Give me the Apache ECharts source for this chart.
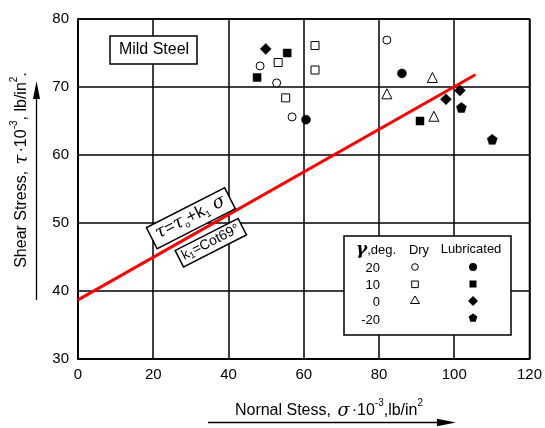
<!DOCTYPE html>
<html>
<head>
<meta charset="utf-8">
<script src="https://cdn.jsdelivr.net/npm/echarts@6/dist/echarts.min.js"></script>
<style>
  html, body { margin: 0; padding: 0; background: #fff; }
  #chart { width: 545px; height: 428px; }
</style>
</head>
<body>
<div id="chart"></div>
<script>
// Axis ranges
const xRange = [0, 120];
const yRange = [30, 80];
const xStep = 20;
const yStep = 10;

// Dry tests (open symbols): [normal stress, shear stress] x10^3 lb/in^2
const dry20 = [[48.4, 73.1], [52.8, 70.6], [56.9, 65.6], [82.1, 76.9]];
const dry10 = [[53.2, 73.6], [55.2, 68.4], [63.0, 76.1], [63.0, 72.5]];
const dry0  = [[82.1, 69.0], [94.2, 71.4], [94.6, 65.7]];

// Lubricated tests (filled symbols)
const lub20  = [[60.6, 65.2], [86.1, 72.0]];
const lub10  = [[47.6, 71.4], [55.6, 75.0], [90.9, 65.0]];
const lub0   = [[49.9, 75.6], [97.8, 68.2], [101.5, 69.5]];
const lubM20 = [[101.9, 67.0], [110.1, 62.3]];

// Fitted line tau = tau0 + k1 * sigma
const fitLine = [[0, 38.7], [105.6, 71.8]];

// Legend rows
const legendAngles = ['20', '10', '0', '-20'];

const FONT = 'Liberation Sans, Arial, sans-serif';
const PENTAGON = 'path://M0,-10 L9.51,-3.09 L5.88,8.09 L-5.88,8.09 L-9.51,-3.09 Z';

function scatter(name, data, symbol, size, filled) {
  return {
    name, type: 'scatter', data, symbol, symbolSize: size, z: 5,
    itemStyle: filled
      ? { color: '#000', borderColor: '#000', borderWidth: 0.5, opacity: 1 }
      : { color: '#fff', borderColor: '#000', borderWidth: 1, opacity: 1 }
  };
}

const chart = echarts.init(document.getElementById('chart'));

const option = {
  backgroundColor: '#fff',
  animation: false,
  grid: { left: 78, top: 19, width: 454, height: 340, show: true, borderColor: '#000', borderWidth: 1.5, backgroundColor: 'transparent' },
  xAxis: {
    type: 'value', min: xRange[0], max: xRange[1], interval: xStep,
    axisLine: { lineStyle: { color: '#000', width: 1.5 } },
    axisTick: { show: false },
    axisLabel: { color: '#000', fontSize: 15, fontFamily: FONT, margin: 8 },
    splitLine: { show: true, lineStyle: { color: '#000', width: 1.5 } }
  },
  yAxis: {
    type: 'value', min: yRange[0], max: yRange[1], interval: yStep,
    axisLine: { lineStyle: { color: '#000', width: 1.5 } },
    axisTick: { show: false },
    axisLabel: { color: '#000', fontSize: 15, fontFamily: FONT, margin: 9, padding: [0, 0, 4, 0] },
    splitLine: { show: true, lineStyle: { color: '#000', width: 1.5 } }
  },
  series: [
    {
      name: 'fit', type: 'line', data: fitLine, symbol: 'none', z: 3,
      lineStyle: { color: '#ff0000', width: 3 }
    },
    scatter('dry 20', dry20, 'circle', 8, false),
    scatter('dry 10', dry10, 'rect', 8, false),
    scatter('dry 0', dry0, 'triangle', 10, false),
    scatter('lub 20', lub20, 'circle', 9, true),
    scatter('lub 10', lub10, 'rect', 8, true),
    scatter('lub 0', lub0, 'diamond', 11, true),
    scatter('lub -20', lubM20, PENTAGON, 10, true)
  ]
};
chart.setOption(option);

// Annotations placed after the axes exist
const eqPos = chart.convertToPixel({ gridIndex: 0 }, [30.0, 50.7]);
const kPos = chart.convertToPixel({ gridIndex: 0 }, [35.3, 47.1]);
const tilt = 27 * Math.PI / 180;

// Legend box geometry
const lg = { x: 344, y: 236, w: 167, h: 99 };
const rowY = [268, 285, 302, 320];
const dryX = 415, lubX = 473;

function pentagonPoints(cx, cy, r) {
  const pts = [];
  for (let i = 0; i < 5; i++) {
    const a = -Math.PI / 2 + i * 2 * Math.PI / 5;
    pts.push([cx + r * Math.cos(a), cy + r * Math.sin(a)]);
  }
  return pts;
}

const legendEls = [
  { type: 'rect', shape: { x: lg.x, y: lg.y, width: lg.w, height: lg.h },
    style: { fill: '#fff', stroke: '#000', lineWidth: 1.5 }, z: 10 },
  { type: 'text', x: 356, y: 250, z: 11,
    style: { text: '{g|γ}{t|,deg.}', verticalAlign: 'middle',
      rich: { g: { fontSize: 17, fontFamily: 'DejaVu Serif, serif', fontStyle: 'italic', fontWeight: 'bold', fill: '#000' },
              t: { fontSize: 13, fontFamily: FONT, fill: '#000' } } } },
  { type: 'text', x: 419, y: 250, z: 11,
    style: { text: 'Dry', fontSize: 13, fontFamily: FONT, fill: '#000', align: 'center', verticalAlign: 'middle' } },
  { type: 'text', x: 471, y: 249, z: 11,
    style: { text: 'Lubricated', fontSize: 13, fontFamily: FONT, fill: '#000', align: 'center', verticalAlign: 'middle' } },
  // dry symbols
  { type: 'circle', shape: { cx: dryX, cy: rowY[0] - 1, r: 3.3 }, style: { fill: '#fff', stroke: '#000', lineWidth: 1 }, z: 11 },
  { type: 'rect', shape: { x: dryX - 3.3, y: rowY[1] - 4, width: 6.6, height: 6.6 }, style: { fill: '#fff', stroke: '#000', lineWidth: 1 }, z: 11 },
  { type: 'polygon', shape: { points: [[dryX, rowY[2] - 6], [dryX + 4.5, rowY[2] + 1.5], [dryX - 4.5, rowY[2] + 1.5]] }, style: { fill: '#fff', stroke: '#000', lineWidth: 1 }, z: 11 },
  // lubricated symbols
  { type: 'circle', shape: { cx: lubX, cy: rowY[0] - 1, r: 4 }, style: { fill: '#000' }, z: 11 },
  { type: 'rect', shape: { x: lubX - 3.5, y: rowY[1] - 4.5, width: 7, height: 7 }, style: { fill: '#000' }, z: 11 },
  { type: 'polygon', shape: { points: [[lubX, rowY[2] - 6], [lubX + 5, rowY[2] - 1], [lubX, rowY[2] + 4], [lubX - 5, rowY[2] - 1]] }, style: { fill: '#000' }, z: 11 },
  { type: 'polygon', shape: { points: pentagonPoints(lubX, rowY[3] - 2, 4.6) }, style: { fill: '#000' }, z: 11 }
];
legendAngles.forEach((t, i) => {
  legendEls.push({ type: 'text', x: 380, y: rowY[i], z: 11,
    style: { text: t, fontSize: 13, fontFamily: FONT, fill: '#000', align: 'right', verticalAlign: 'middle' } });
});

const sub = { fontSize: 9, fontFamily: FONT, fill: '#000', verticalAlign: 'bottom', padding: [0, 0, -1, 0] };
const sup = { fontSize: 10, fontFamily: FONT, fill: '#000', verticalAlign: 'top', padding: [-4, 0, 0, 0] };

chart.setOption({
  graphic: [
    // Material tag
    { type: 'rect', shape: { x: 110, y: 36, width: 87, height: 28 },
      style: { fill: '#fff', stroke: '#000', lineWidth: 1.5 }, z: 10 },
    { type: 'text', x: 154, y: 50, z: 11,
      style: { text: 'Mild Steel', fontSize: 16, fontFamily: FONT, fill: '#000', align: 'center', verticalAlign: 'middle' } },

    // Line equation
    { type: 'text', x: eqPos[0], y: eqPos[1], rotation: tilt, z: 11,
      style: {
        text: '{s|τ}{n|=}{s|τ}{b|o}{n|+k}{b|1}{s| σ}',
        align: 'center', verticalAlign: 'middle',
        backgroundColor: '#fff', borderColor: '#000', borderWidth: 1.5, padding: [1, 5, 3, 5],
        rich: {
          s: { fontSize: 18, fontFamily: 'DejaVu Serif, serif', fontStyle: 'italic', fill: '#000' },
          n: { fontSize: 17, fontFamily: FONT, fill: '#000' },
          b: sub
        }
      } },
    { type: 'text', x: kPos[0], y: kPos[1], rotation: tilt, z: 11,
      style: {
        text: '{n|k}{b|1}{n|=Cot69°}',
        align: 'center', verticalAlign: 'middle',
        backgroundColor: '#fff', borderColor: '#000', borderWidth: 1.5, padding: [1, 3, 2, 3],
        rich: { n: { fontSize: 14, fontFamily: FONT, fill: '#000' }, b: sub }
      } },

    // Y axis title and arrow
    { type: 'text', x: 22, y: 170, rotation: Math.PI / 2, z: 11,
      style: {
        text: '{n|Shear Stress, }{s|τ}{n|·10}{p|-3}{n|, lb/in}{p|2}{n|.}',
        align: 'center', verticalAlign: 'middle',
        rich: {
          n: { fontSize: 16, fontFamily: FONT, fill: '#000' },
          s: { fontSize: 18, fontFamily: 'DejaVu Serif, serif', fontStyle: 'italic', fill: '#000', padding: [0, 2, 0, 2] },
          p: sup
        }
      } },
    { type: 'line', shape: { x1: 36.5, y1: 300, x2: 36.5, y2: 96 }, style: { stroke: '#000', lineWidth: 1.3 }, z: 11 },
    { type: 'polygon', shape: { points: [[36.5, 81], [33, 99], [40, 99]] }, style: { fill: '#000' }, z: 11 },

    // X axis title and arrow
    { type: 'text', x: 329, y: 411, z: 11,
      style: {
        text: '{n|Nornal Stess, }{s|σ}{n|·10}{p|-3}{n|,lb/in}{p|2}',
        align: 'center', verticalAlign: 'middle',
        rich: {
          n: { fontSize: 16, fontFamily: FONT, fill: '#000' },
          s: { fontSize: 18, fontFamily: 'DejaVu Serif, serif', fontStyle: 'italic', fill: '#000', padding: [0, 2, 0, 2] },
          p: sup
        }
      } },
    { type: 'line', shape: { x1: 208, y1: 422.5, x2: 440, y2: 422.5 }, style: { stroke: '#000', lineWidth: 1.3 }, z: 11 },
    { type: 'polygon', shape: { points: [[456, 422.5], [437, 418.8], [437, 426.2]] }, style: { fill: '#000' }, z: 11 }
  ].concat(legendEls)
});
</script>
</body>
</html>
